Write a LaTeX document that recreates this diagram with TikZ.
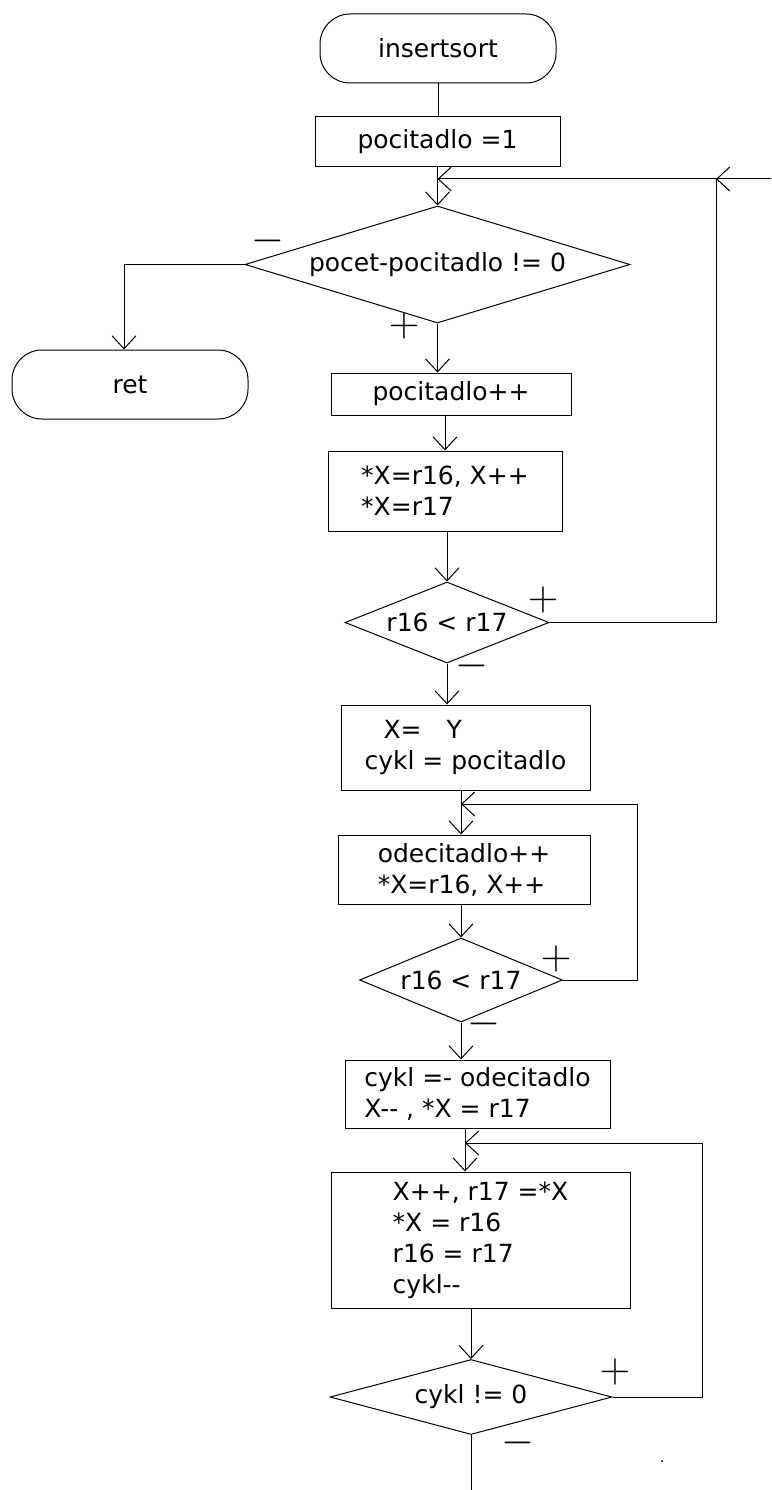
\documentclass[tikz,border=0pt]{standalone}
\usepackage{fontspec}
\setmainfont{DejaVu Sans}
\usetikzlibrary{shapes.geometric,arrows.meta}
\begin{document}
\begin{tikzpicture}[x=1pt,y=-1pt,
  every node/.style={font=\fontsize{25}{31}\selectfont},
  proc/.style={draw, line width=1pt, inner sep=0pt, align=left},
  term/.style={draw, line width=1pt, rounded corners=30pt, inner sep=0pt, minimum width=236pt, minimum height=69pt},
  dec/.style={diamond, draw, line width=1pt, inner sep=0pt},
  conn/.style={line width=1pt},
  arr/.style={conn, -{Straight Barb[length=13pt,width=24pt,line width=1pt]}},
  sign/.style={font=\fontsize{34}{34}\selectfont, inner sep=0pt, scale=1.7}]
\useasboundingbox (0,0) rectangle (771,1490);

\node[term] (start) at (438,48.5) {insertsort};
\node[proc, minimum width=245pt, minimum height=50pt] (init) at (437.5,142) {pocitadlo =1};
\node[dec, minimum width=385pt, minimum height=117pt, shape aspect=3.29] (d1) at (437.5,264.5) {pocet-pocitadlo != 0};
\node[term] (ret) at (130,384.5) {ret};
\node[proc, minimum width=240pt, minimum height=42pt] (p2) at (451,394) {pocitadlo++};
\node[proc, minimum width=234pt, minimum height=80pt] (b3) at (445,491) {*X=r16, X++\\*X=r17};
\node[dec, minimum width=204pt, minimum height=81pt, shape aspect=2.52] (d2) at (447,622.5) {r16 < r17};
\node[proc, minimum width=249pt, minimum height=85pt] (b4) at (465.5,747.5) {\hspace*{19pt}X=\hspace*{25pt}Y\\cykl = pocitadlo};
\node[proc, minimum width=252pt, minimum height=69pt] (b5) at (464,869.5) {odecitadlo++\\*X=r16, X++};
\node[dec, minimum width=203pt, minimum height=84pt, shape aspect=2.42] (d3) at (461,980) {r16 < r17};
\node[proc, minimum width=265pt, minimum height=68pt] (b6) at (477.5,1094) {cykl =- odecitadlo\\X-{}- , *X = r17};
\node[proc, minimum width=299pt, minimum height=136pt] (b7) at (480.5,1240) {X++, r17 =*X\\*X = r16\\r16 = r17\\cykl-{}-};
\node[dec, minimum width=282pt, minimum height=75pt, shape aspect=3.76] (d4) at (471,1397) {cykl != 0};

\coordinate (j1) at (437.5,179);
\coordinate (r1) at (716,179);
\coordinate (e1) at (771,179);
\coordinate (j2) at (461,804);
\coordinate (r2) at (637,804);
\coordinate (j3) at (465,1143);
\coordinate (r3) at (702,1143);
\coordinate (fin) at (471,1490);

\draw[conn] (start.south) -- (start.south |- init.north);
\draw[conn] (init.south -| j1) -- (j1);
\draw[arr] (j1) -- (d1.north);
\draw[arr] (d1.west) -| ([xshift=-6pt]ret.north);
\draw[arr] (d1.south) -- (d1.south |- p2.north);
\draw[arr] (p2.south -| b3.north) -- (b3.north);
\draw[arr] (b3.south -| d2.north) -- (d2.north);
\draw[arr] (d2.east) -| (r1) -- (j1);
\draw[arr] (e1) -- (r1);
\draw[arr] (d2.south) -- (d2.south |- b4.north);
\draw[conn] (b4.south -| j2) -- (j2);
\draw[arr] (j2) -- (j2 |- b5.north);
\draw[arr] (d3.east) -| (r2) -- (j2);
\draw[arr] (b5.south -| d3.north) -- (d3.north);
\draw[arr] (d3.south) -- (d3.south |- b6.north);
\draw[conn] (b6.south -| j3) -- (j3);
\draw[arr] (j3) -- (j3 |- b7.north);
\draw[arr] (b7.south -| d4.north) -- (d4.north);
\draw[arr] (d4.east) -| (r3) -- (j3);
\draw[conn] (d4.south) -- (fin);

\node[sign] (m1) at (268,241) {$-$};
\node[sign] (p1) at (404,326) {$+$};
\node[sign] (p2s) at (543,600) {$+$};
\node[sign] (m2) at (472,666) {$-$};
\node[sign] (p3) at (556,959) {$+$};
\node[sign] (m3) at (484,1024) {$-$};
\node[sign] (p4) at (615,1372) {$+$};
\node[sign] (m4) at (518,1443) {$-$};

\fill (662,1461) circle (1pt);
\end{tikzpicture}
\end{document}
